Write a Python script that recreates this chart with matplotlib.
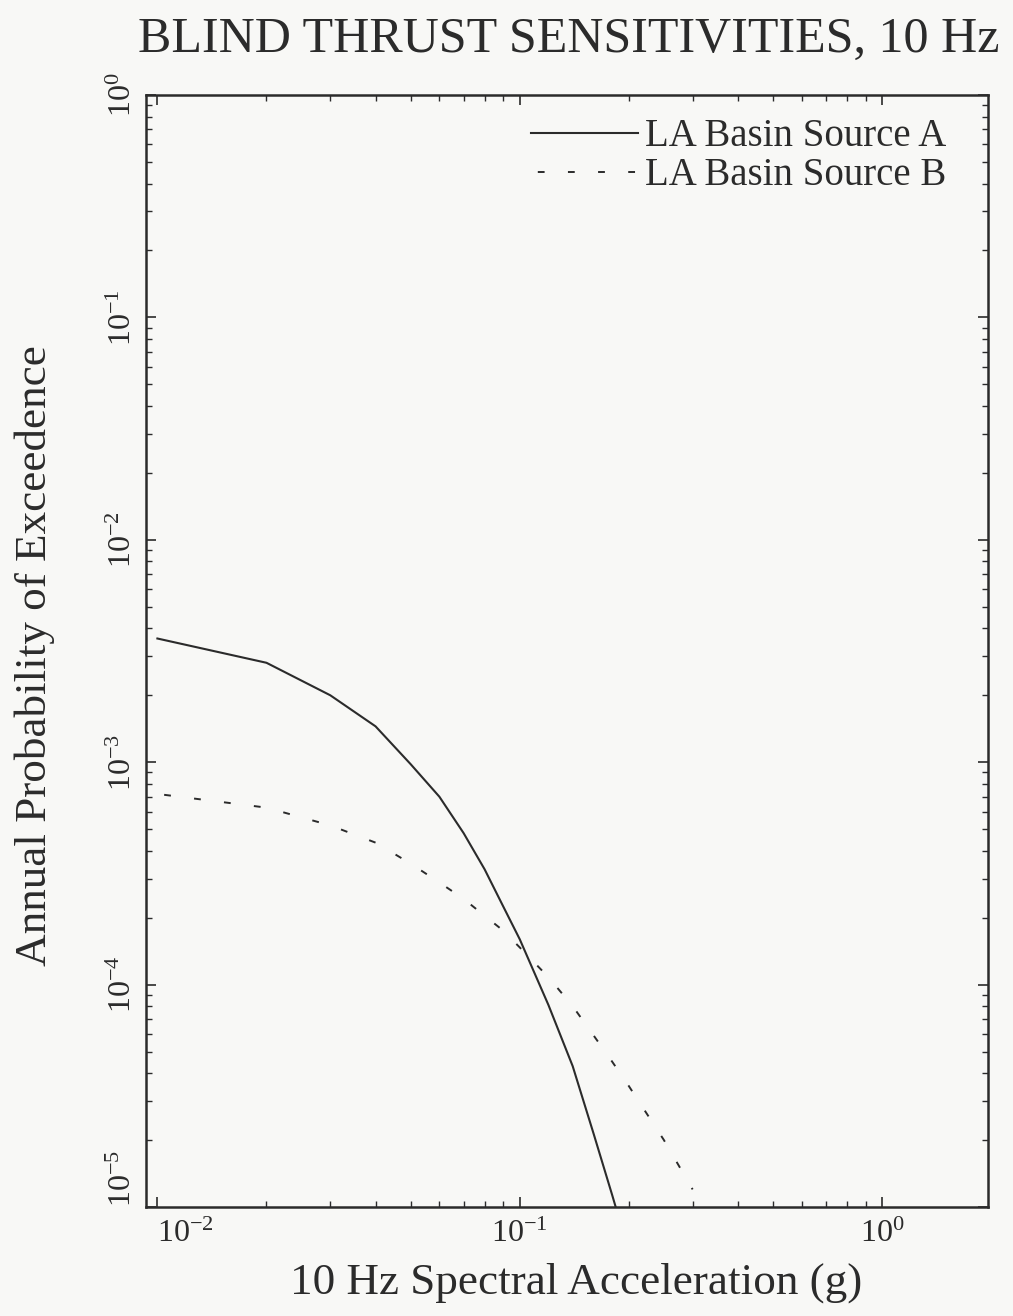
import matplotlib
matplotlib.use("Agg")
import matplotlib.pyplot as plt
from matplotlib.ticker import LogLocator, NullFormatter, FixedLocator

# Hazard curves: spectral acceleration (g) vs annual probability of exceedence
accel_a = [0.01, 0.02, 0.03, 0.04, 0.05, 0.06, 0.07, 0.08, 0.09, 0.10,
           0.12, 0.14, 0.16, 0.18, 0.20]
prob_a = [3.6e-3, 2.8e-3, 2.0e-3, 1.45e-3, 9.8e-4, 7.0e-4, 4.8e-4, 3.3e-4,
          2.25e-4, 1.6e-4, 8.1e-5, 4.3e-5, 2.13e-5, 1.13e-5, 6.3e-6]

accel_b = [0.01, 0.02, 0.03, 0.04, 0.05, 0.06, 0.07, 0.08, 0.09, 0.10,
           0.12, 0.14, 0.16, 0.18, 0.20, 0.25, 0.30]
prob_b = [7.2e-4, 6.25e-4, 5.2e-4, 4.35e-4, 3.5e-4, 2.88e-4, 2.43e-4, 2.04e-4,
          1.75e-4, 1.47e-4, 1.08e-4, 8.0e-5, 5.9e-5, 4.5e-5, 3.5e-5, 2.0e-5, 1.2e-5]

series_labels = ["LA Basin Source A", "LA Basin Source B"]
x_tick_values = [1e-2, 1e-1, 1e0]
x_tick_labels = [r"$\mathregular{10^{-2}}$", r"$\mathregular{10^{-1}}$", r"$\mathregular{10^{0}}$"]
y_tick_values = [1e-5, 1e-4, 1e-3, 1e-2, 1e-1, 1e0]
y_tick_labels = [r"$\mathregular{10^{-5}}$", r"$\mathregular{10^{-4}}$", r"$\mathregular{10^{-3}}$",
                 r"$\mathregular{10^{-2}}$", r"$\mathregular{10^{-1}}$", r"$\mathregular{10^{0}}$"]

title_text = "BLIND THRUST SENSITIVITIES, 10 Hz"
x_label = "10 Hz Spectral Acceleration (g)"
y_label = "Annual Probability of Exceedence"

ink = "#2b2b2b"
paper = "#f8f8f6"

plt.rcParams["font.family"] = ["Liberation Serif", "DejaVu Serif"]
plt.rcParams["mathtext.fontset"] = "custom"
plt.rcParams["mathtext.rm"] = "Liberation Serif"
plt.rcParams["mathtext.it"] = "Liberation Serif:italic"
plt.rcParams["mathtext.bf"] = "Liberation Serif:bold"

fig = plt.figure(figsize=(10.13, 13.16), dpi=100, facecolor=paper)
ax = fig.add_axes([0.1441, 0.0828, 0.9753 - 0.1441, 0.9278 - 0.0828])
ax.set_facecolor(paper)

ax.plot(accel_a, prob_a, color=ink, lw=1.5, linestyle="-", label=series_labels[0])
ax.plot(accel_b, prob_b, color=ink, lw=1.4, linestyle=(12, (3.5, 12)), label=series_labels[1])

ax.set_xscale("log")
ax.set_yscale("log")
ax.set_xlim(0.0093, 1.96)
ax.set_ylim(1e-5, 1e0)

for sp in ax.spines.values():
    sp.set_color(ink)
    sp.set_linewidth(1.8)

ax.xaxis.set_major_locator(FixedLocator(x_tick_values))
ax.xaxis.set_minor_locator(LogLocator(base=10, subs=range(2, 10)))
ax.yaxis.set_major_locator(FixedLocator(y_tick_values))
ax.yaxis.set_minor_locator(LogLocator(base=10, subs=range(2, 10)))
ax.xaxis.set_minor_formatter(NullFormatter())
ax.yaxis.set_minor_formatter(NullFormatter())

ax.tick_params(which="both", direction="in", top=True, right=True, color=ink)
ax.tick_params(which="major", length=7, width=1.2)
ax.tick_params(which="minor", length=4, width=1.0)

ax.set_xticklabels(x_tick_labels, fontsize=23, color=ink)
ax.tick_params(axis="x", which="major", pad=9)
xt = ax.get_xticklabels()
xt[0].set_horizontalalignment("left")

ax.set_yticklabels(y_tick_labels, fontsize=23, color=ink, rotation=90, va="center")
ax.tick_params(axis="y", which="major", pad=6)
yt = ax.get_yticklabels()
yt[0].set_verticalalignment("bottom")

leg = ax.legend(loc="upper right", bbox_to_anchor=(0.951, 0.979), frameon=False,
                fontsize=28, handlelength=2.75, handletextpad=0.2,
                labelspacing=0.05, borderpad=0, borderaxespad=0)
for t in leg.get_texts():
    t.set_color(ink)

fig.text(0.561, 0.9696, title_text, ha="center", va="center", fontsize=36, color=ink)
fig.text(0.569, 0.025, x_label, ha="center", va="center", fontsize=32.5, color=ink)
fig.text(0.0345, 0.502, y_label, ha="center", va="center", rotation=90, fontsize=32.5, color=ink)

fig.savefig("out.png", dpi=100, facecolor=paper)
